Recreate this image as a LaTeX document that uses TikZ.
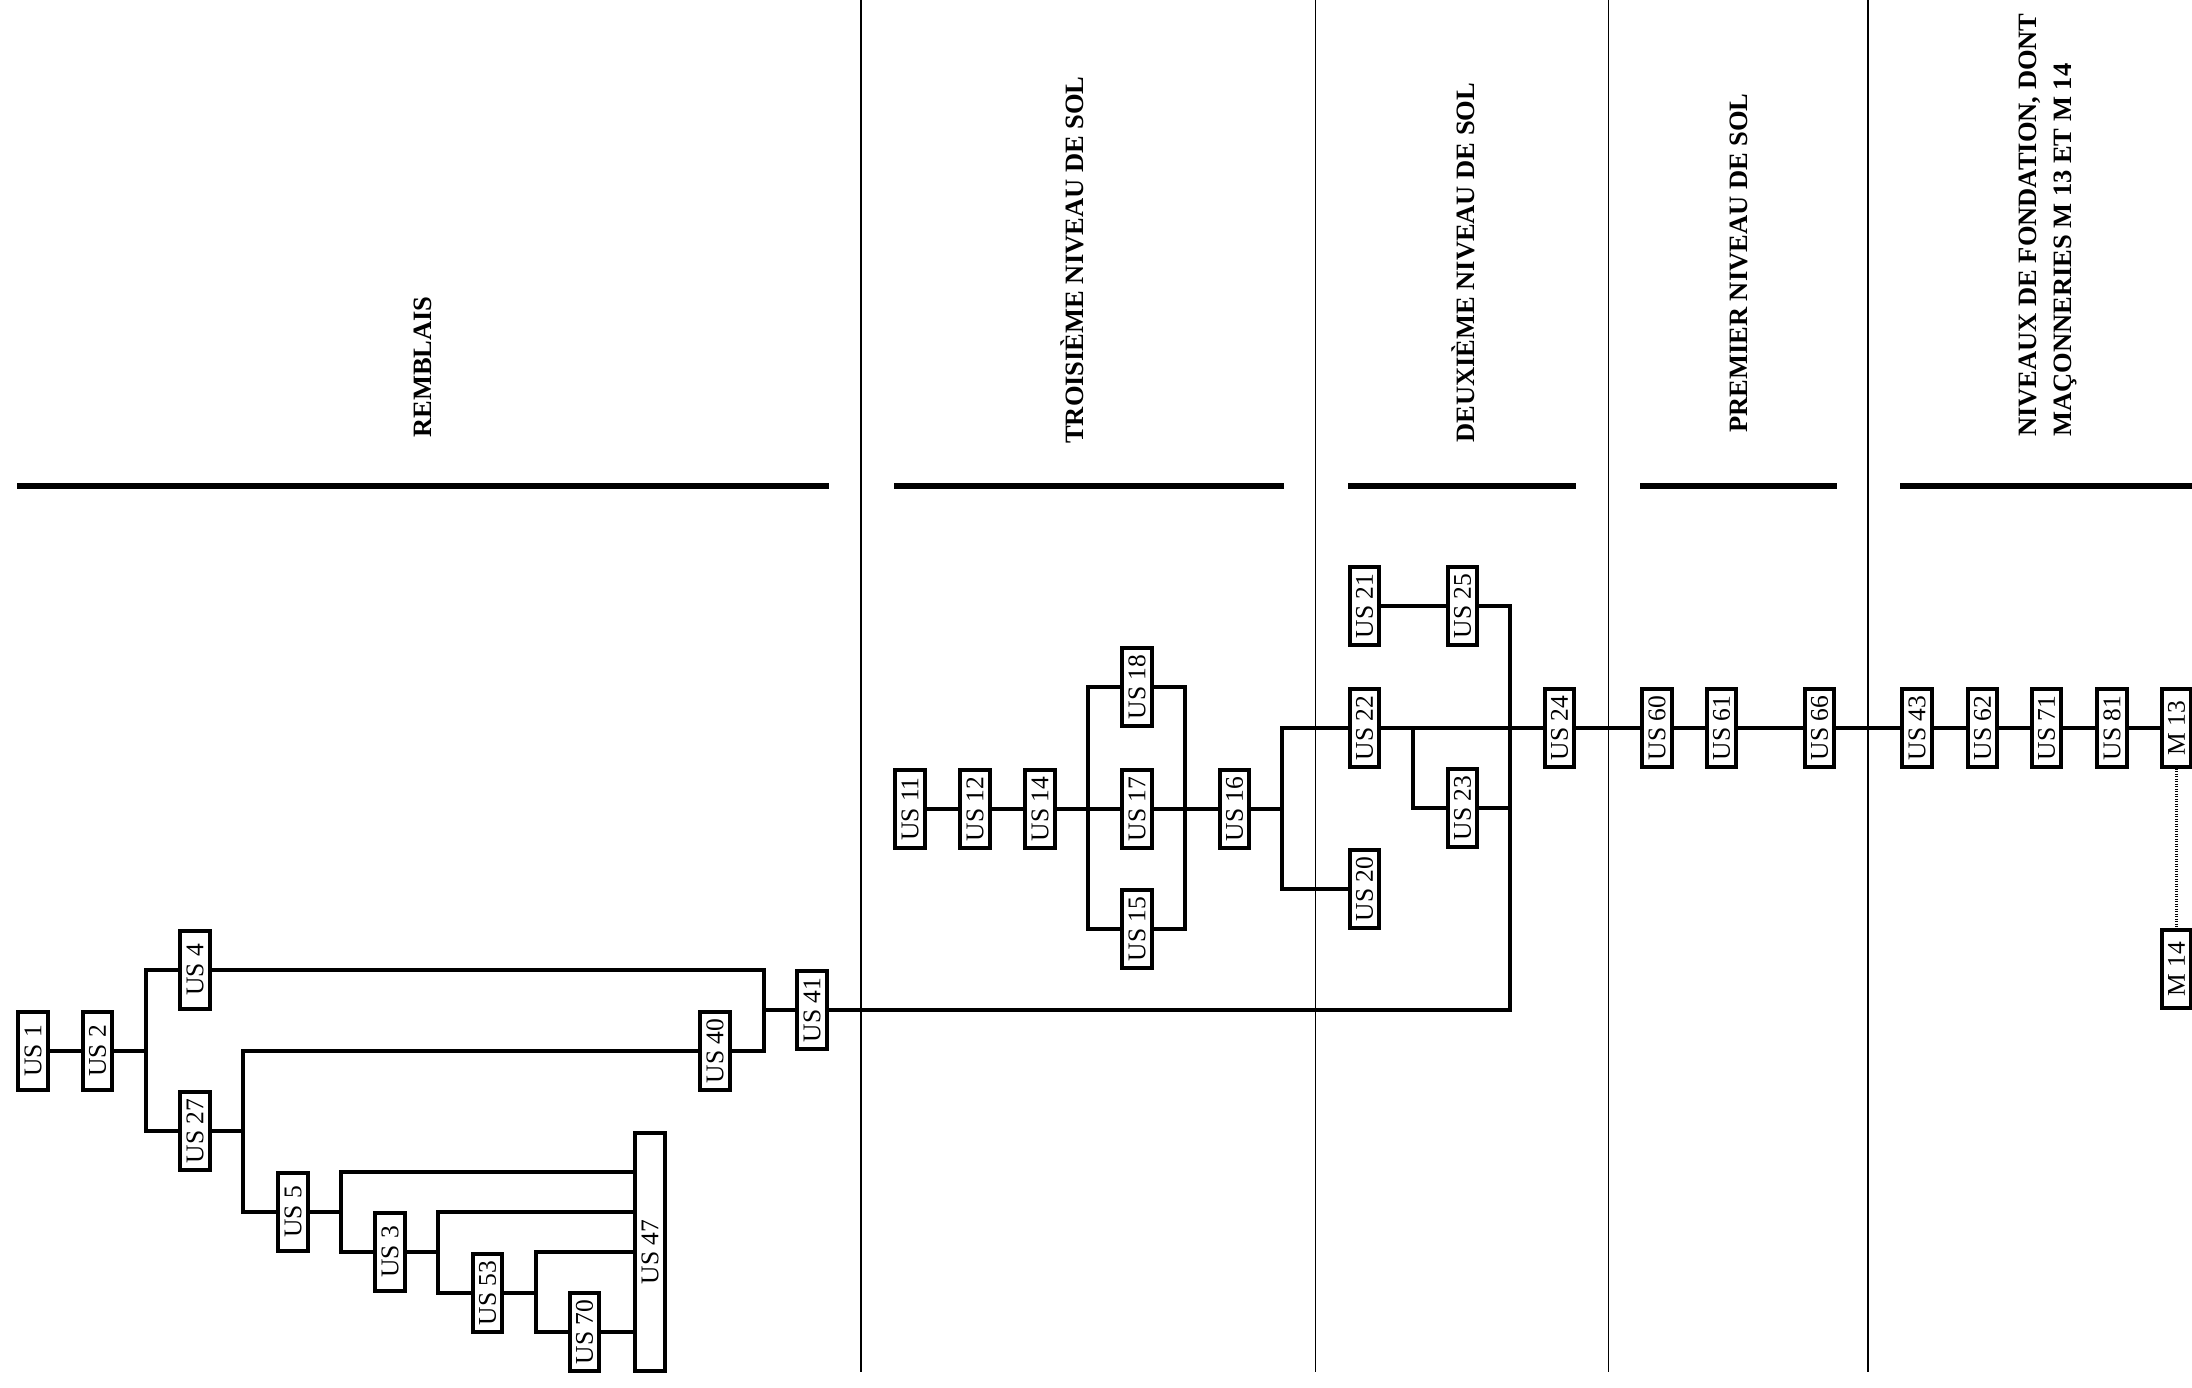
\documentclass[tikz,border=0pt]{standalone}
\usepackage{fontspec}
\setmainfont{Liberation Serif}
\usepackage{graphicx}
\newcommand{\rl}[1]{\rotatebox{90}{#1}}
\begin{document}
\begin{tikzpicture}[x=1pt,y=-1pt,
  usbox/.style={draw, line width=3.6pt, minimum width=29.5pt, minimum height=77.5pt, inner sep=0pt, fill=white, font=\fontsize{25.5}{30}\selectfont},
  conn/.style={line width=3.4pt},
  dotconn/.style={line width=2.6pt, dash pattern=on 1.4pt off 1.1pt},
  divider/.style={line width=1.5pt},
  uline/.style={line width=6pt},
  heading/.style={rotate=90, anchor=west, inner sep=0pt, font=\bfseries\fontsize{26.5}{35}\selectfont, align=left},
]
\useasboundingbox (0,0) rectangle (2192,1387);

% dividers
\coordinate (d1t) at (861,0);    \coordinate (d1b) at (861,1372);
\coordinate (d2t) at (1315.5,0); \coordinate (d2b) at (1315.5,1372);
\coordinate (d3t) at (1608.5,0); \coordinate (d3b) at (1608.5,1372);
\coordinate (d4t) at (1868,0);   \coordinate (d4b) at (1868,1372);
\draw[divider] (d1t) -- (d1b);
\draw[divider] (d2t) -- (d2b);
\draw[divider] (d3t) -- (d3b);
\draw[divider] (d4t) -- (d4b);

% heading underlines
\coordinate (u1a) at (17,486);   \coordinate (u1b) at (829,486);
\coordinate (u2a) at (894,486);  \coordinate (u2b) at (1284,486);
\coordinate (u3a) at (1348,486); \coordinate (u3b) at (1576,486);
\coordinate (u4a) at (1640,486); \coordinate (u4b) at (1837,486);
\coordinate (u5a) at (1900,486); \coordinate (u5b) at (2192,486);
\draw[uline] (u1a) -- (u1b);
\draw[uline] (u2a) -- (u2b);
\draw[uline] (u3a) -- (u3b);
\draw[uline] (u4a) -- (u4b);
\draw[uline] (u5a) -- (u5b);

% headings
\node[heading] (hrem) at (423,438) {REMBLAIS};
\node[heading] (htro) at (1072,444) {TROISIÈME NIVEAU DE SOL};
\node[heading] (hdeu) at (1463,443) {DEUXIÈME NIVEAU DE SOL};
\node[heading] (hpre) at (1739,433) {PREMIER NIVEAU DE SOL};
\node[heading] (hniv) at (2047.5,437) {NIVEAUX DE FONDATION, DONT\\MAÇONNERIES M 13 ET M 14};

% bus coordinates
\coordinate (b1) at (146,1051);
\coordinate (b2) at (243,1131);
\coordinate (b3) at (341,1212);  \coordinate (t3) at (341,1172);
\coordinate (b4) at (438,1252);  \coordinate (t4) at (438,1212);
\coordinate (b5) at (536,1293);  \coordinate (t5) at (536,1252);
\coordinate (b7) at (764,1010);
\coordinate (bL) at (1088,809);
\coordinate (bR) at (1185,809);
\coordinate (bU) at (1282,809);
\coordinate (bB) at (1413,728);
\coordinate (bV) at (1510,1010);

% boxes, remblais
\node[usbox] (us1)  at (33,1051)   {\rl{US 1}};
\node[usbox] (us2)  at (97.5,1051) {\rl{US 2}};
\node[usbox] (us4)  at (195,970)   {\rl{US 4}};
\node[usbox] (us27) at (195,1131)  {\rl{US 27}};
\node[usbox] (us5)  at (293,1212)  {\rl{US 5}};
\node[usbox] (us3)  at (390,1252)  {\rl{US 3}};
\node[usbox] (us53) at (487.5,1293) {\rl{US 53}};
\node[usbox] (us70) at (584.5,1332) {\rl{US 70}};
\node[usbox, minimum height=238.5pt] (us47) at (650,1252) {\rl{US 47}};
\node[usbox] (us40) at (715,1051)  {\rl{US 40}};
\node[usbox] (us41) at (812,1010)  {\rl{US 41}};

% boxes, upper levels
\node[usbox] (us11) at (910,809)    {\rl{US 11}};
\node[usbox] (us12) at (975,809)    {\rl{US 12}};
\node[usbox] (us14) at (1040,809)   {\rl{US 14}};
\node[usbox] (us18) at (1137,687)   {\rl{US 18}};
\node[usbox] (us17) at (1137,809)   {\rl{US 17}};
\node[usbox] (us15) at (1137,929)   {\rl{US 15}};
\node[usbox] (us16) at (1234.5,809) {\rl{US 16}};
\node[usbox] (us21) at (1364.5,606) {\rl{US 21}};
\node[usbox] (us22) at (1364.5,728) {\rl{US 22}};
\node[usbox] (us20) at (1364.5,889) {\rl{US 20}};
\node[usbox] (us25) at (1462.5,606) {\rl{US 25}};
\node[usbox] (us23) at (1462.5,808) {\rl{US 23}};
\node[usbox] (us24) at (1559.5,728) {\rl{US 24}};
\node[usbox] (us60) at (1657,728)   {\rl{US 60}};
\node[usbox] (us61) at (1721.5,728) {\rl{US 61}};
\node[usbox] (us66) at (1819.5,728) {\rl{US 66}};
\node[usbox] (us43) at (1917,728)   {\rl{US 43}};
\node[usbox] (us62) at (1982.5,728) {\rl{US 62}};
\node[usbox] (us71) at (2046.5,728) {\rl{US 71}};
\node[usbox] (us81) at (2112,728)   {\rl{US 81}};
\node[usbox] (m13)  at (2176.5,728) {\rl{M 13}};
\node[usbox] (m14)  at (2176.5,969) {\rl{M 14}};

% connectors, remblais
\draw[conn] (us1) -- (us2);
\draw[conn] (us2) -- (b1);
\draw[conn] (us4.west) -| (b1) |- (us27.west);
\draw[conn] (us4.east) -| (b7) |- (us40.east);
\draw[conn] (b7) -- (us41);
\draw[conn] (us27) -- (b2);
\draw[conn] (us40.west) -| (b2) |- (us5.west);
\draw[conn] (us5) -- (b3);
\draw[conn] (us47.west |- t3) -| (b3) |- (us3.west);
\draw[conn] (us3) -- (b4);
\draw[conn] (us47.west |- t4) -| (b4) |- (us53.west);
\draw[conn] (us53) -- (b5);
\draw[conn] (us47.west |- t5) -| (b5) |- (us70.west);
\draw[conn] (us70.east) -- (us70.east -| us47.west);

% connectors, upper levels
\draw[conn] (us11) -- (us12);
\draw[conn] (us12) -- (us14);
\draw[conn] (us14) -- (bL);
\draw[conn] (us18.west) -| (bL) |- (us15.west);
\draw[conn] (bL) -- (us17);
\draw[conn] (us18.east) -| (bR) |- (us15.east);
\draw[conn] (us17) -- (bR);
\draw[conn] (bR) -- (us16);
\draw[conn] (us16) -- (bU);
\draw[conn] (us22.west) -| (bU) |- (us20.west);
\draw[conn] (us21) -- (us25);
\draw[conn] (us22) -- (us24);
\draw[conn] (bB) |- (us23.west);
\draw[conn] (us25.east) -| (bV) -- (us41);
\draw[conn] (us23.east) -- (us23.east -| bV);
\draw[conn] (us24) -- (us60);
\draw[conn] (us60) -- (us61);
\draw[conn] (us61) -- (us66);
\draw[conn] (us66) -- (us43);
\draw[conn] (us43) -- (us62);
\draw[conn] (us62) -- (us71);
\draw[conn] (us71) -- (us81);
\draw[conn] (us81) -- (m13);
\draw[dotconn] (m13) -- (m14);
\end{tikzpicture}
\end{document}
